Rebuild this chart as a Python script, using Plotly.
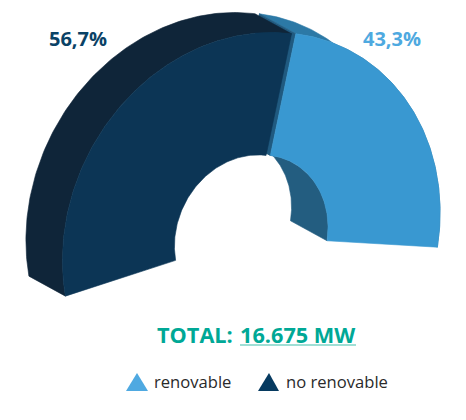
import numpy as np
import plotly.graph_objects as go

categories = ["renovable", "no renovable"]
shares = [43.3, 56.7]
share_labels = ["43,3%", "56,7%"]
total_label = "TOTAL:"
total_value = "16.675 MW"

W, H = 466, 420
SWEEP = 200.0
START = -3.0
A, K, B = 185.4, 21.9, 204.0
HOLE = 0.40
DEPTH = np.array([-36.5, -20.0])
CENTRE_LIGHT = np.array([253.4, 236.5])
CENTRE_DARK = np.array([249.1, 236.5])

frac = np.array(shares) / sum(shares)
t_start = START
t_div = START + frac[0] * SWEEP
t_end = START + SWEEP


def arc(centre, t0, t1, rho, shift=(0, 0), n=120):
    t = np.radians(np.linspace(t0, t1, n))
    x = centre[0] + rho * (A * np.cos(t) + K * np.sin(t)) + shift[0]
    y = centre[1] - rho * B * np.sin(t) + shift[1]
    return x, y


def poly(x, y, color):
    return go.Scatter(
        x=np.r_[x, x[0]], y=np.r_[y, y[0]], mode="lines", fill="toself",
        fillcolor=color, line=dict(width=0.6, color=color),
        hoverinfo="skip", showlegend=False,
    )


def strip(centre, t0, t1, rho, color):
    x1, y1 = arc(centre, t0, t1, rho)
    x2, y2 = arc(centre, t0, t1, rho, DEPTH)
    return poly(np.r_[x1, x2[::-1]], np.r_[y1, y2[::-1]], color)


def face(centre, t0, t1, color):
    x1, y1 = arc(centre, t0, t1, 1.0)
    x2, y2 = arc(centre, t0, t1, HOLE)
    return poly(np.r_[x1, x2[::-1]], np.r_[y1, y2[::-1]], color)


def div_wall(centre, t, color):
    x1, y1 = arc(centre, t, t, 1.0, n=1)
    x2, y2 = arc(centre, t, t, HOLE, n=1)
    x = np.r_[x1, x2, x2 + DEPTH[0], x1 + DEPTH[0]]
    y = np.r_[y1, y2, y2 + DEPTH[1], y1 + DEPTH[1]]
    return poly(x, y, color)


fig = go.Figure()
fig.add_trace(strip(CENTRE_LIGHT, t_start, t_div, 1.0, "#2c79a6"))
fig.add_trace(div_wall(CENTRE_LIGHT, t_div, "#205a80"))
fig.add_trace(strip(CENTRE_LIGHT, t_start, t_div, HOLE, "#235d80"))
fig.add_trace(strip(CENTRE_DARK, t_div, t_end, 1.0, "#0f2539"))
fig.add_trace(face(CENTRE_DARK, t_div, t_end, "#0c3555"))
fig.add_trace(face(CENTRE_LIGHT, t_start, t_div, "#3998d1"))

FONT = "Open Sans"
notes = [
    dict(x=77.5, y=38, text=f"<b>{share_labels[1]}</b>", size=20, color="#0a4266", anchor="center"),
    dict(x=391.5, y=38, text=f"<b>{share_labels[0]}</b>", size=20, color="#4ea9e0", anchor="center"),
    dict(x=156, y=334.5, text=f"<b>{total_label}</b>", size=21.7, color="#00a896", anchor="left"),
    dict(x=239, y=334.5, text=f"<b>{total_value}</b>", size=21.7, color="#00a896", anchor="left"),
    dict(x=152.5, y=381, text=categories[0], size=16.6, color="#2a2a2a", anchor="left"),
    dict(x=284.5, y=381, text=categories[1], size=16.6, color="#2a2a2a", anchor="left"),
]
annotations = [
    dict(x=n["x"], y=n["y"], text=n["text"], showarrow=False, xanchor=n["anchor"], yanchor="middle",
         xref="x", yref="y", borderpad=0, font=dict(family=FONT, size=n["size"], color=n["color"]))
    for n in notes
]

shapes = [
    dict(type="path", path="M126,391 L137,373 L148,391 Z", fillcolor="#4fa9e1", line=dict(width=0), xref="x", yref="y"),
    dict(type="path", path="M258,391 L269,373 L279,391 Z", fillcolor="#063a60", line=dict(width=0), xref="x", yref="y"),
    dict(type="line", x0=240, x1=356, y0=345, y1=345, line=dict(color="#7fd4c7", width=1.5), xref="x", yref="y"),
]

fig.update_layout(
    width=W, height=H, margin=dict(l=0, r=0, t=0, b=0),
    paper_bgcolor="white", plot_bgcolor="white", showlegend=False,
    xaxis=dict(range=[0, W], visible=False, fixedrange=True),
    yaxis=dict(range=[H, 0], visible=False, fixedrange=True),
    annotations=annotations, shapes=shapes,
)
fig.write_html("out.html", config=dict(displayModeBar=False),
               post_script="document.body.style.margin='0';document.documentElement.style.overflow='hidden';")
